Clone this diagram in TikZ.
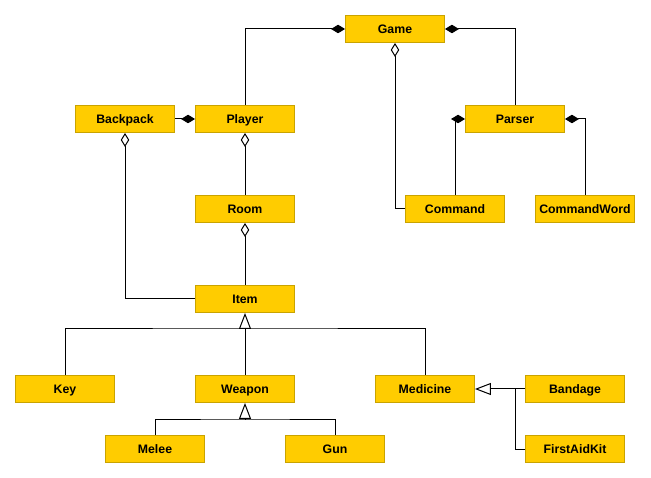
\documentclass[tikz,border=0pt]{standalone}
\usepackage{fontspec}
\setmainfont{Liberation Sans}
\usepackage{tikz}
\usetikzlibrary{arrows.meta,calc}
\definecolor{boxfill}{HTML}{FFCC00}
\definecolor{boxedge}{HTML}{C9A300}
\tikzstyle{cls}=[draw=boxedge,fill=boxfill,line width=0.9pt,minimum width=99pt,
                minimum height=27pt,inner sep=0pt,text height=8.8pt,text depth=0pt,
                font=\fontsize{12.3}{14}\selectfont\bfseries]
\tikzstyle{comp}=[{Diamond[length=14pt,width=8.5pt]}-]
\tikzstyle{aggr}=[{Diamond[open,fill=white,length=14pt,width=8.5pt]}-]
\tikzstyle{inh}=[{Triangle[open,fill=white,length=16pt,width=12pt]}-]
\begin{document}
\begin{tikzpicture}[x=1pt,y=-1pt,line width=1pt]
\useasboundingbox (0,0) rectangle (651,478);

% % % % % % % % % % % % % % %

\node[cls] (Game) at (395,29) {Game};
\node[cls] (Backpack) at (125,119) {Backpack};
\node[cls] (Player) at (245,119) {Player};
\node[cls] (Parser) at (515,119) {Parser};
\node[cls] (Room) at (245,209) {Room};
\node[cls] (Command) at (455,209) {Command};
\node[cls] (CommandWord) at (585,209) {CommandWord};
\node[cls] (Item) at (245,299) {Item};
\node[cls] (Key) at (65,389) {Key};
\node[cls] (Weapon) at (245,389) {Weapon};
\node[cls] (Medicine) at (425,389) {Medicine};
\node[cls] (Bandage) at (575,389) {Bandage};
\node[cls] (Melee) at (155,449) {Melee};
\node[cls] (Gun) at (335,449) {Gun};
\node[cls] (FirstAidKit) at (575,449) {FirstAidKit};

\coordinate (itemjoin) at (245,329);
\coordinate (weaponjoin) at (245,419);
\coordinate (medjoin) at (515,389);

% composition / aggregation
\draw[comp] (Game.west) -| (Player.north);
\draw[comp] (Game.east) -| (Parser.north);
\draw[aggr] (Game.south) |- (Command.west);
\draw[comp] (Player.west) -- (Backpack.east);
\draw[aggr] (Player.south) -- (Room.north);
\draw[aggr] (Room.south) -- (Item.north);
\draw[aggr] (Backpack.south) |- (Item.west);
\draw[comp] (Parser.west) -| (Command.north);
\draw[comp] (Parser.east) -| (CommandWord.north);

% generalization
\draw[inh] (Item.south) -- (Weapon.north);
\draw (Key.north) |- (itemjoin) -| (Medicine.north);
\draw[inh] (Weapon.south) -- (weaponjoin);
\draw (Melee.north) |- (weaponjoin) -| (Gun.north);
\draw[inh] (Medicine.east) -- (Bandage.west);
\draw (FirstAidKit.west) -| (medjoin);

\end{tikzpicture}
\end{document}
